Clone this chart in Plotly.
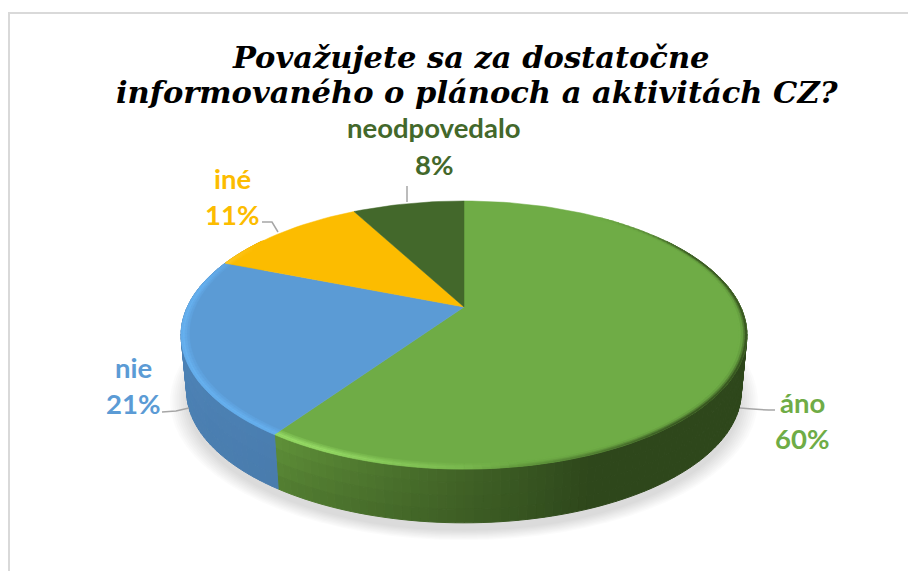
import math
import plotly.graph_objects as go

categories = ["áno", "nie", "iné", "neodpovedalo"]
values = [59.6, 21.4, 11.2, 7.8]
colors = ["#6FAC46", "#5B9BD5", "#FCBC00", "#43682B"]
side_start = {"áno": "#5E8F38", "nie": "#4F87BC", "iné": "#C99700", "neodpovedalo": "#334F20"}
side_end = {"áno": "#2E471B", "nie": "#4A7EB0", "iné": "#C99700", "neodpovedalo": "#334F20"}
rim_light = {"áno": "#9BE06A", "nie": "#68B3F2", "iné": "#FFD24D", "neodpovedalo": "#5C8A3C"}
title_lines = ["Považujete sa za dostatočne", "informovaného o plánoch a aktivitách CZ?"]

# projection of the tilted disc into the pixel-sized axes
AX, AY, K, CX, CY = 276.7, 128.2, 0.209, 464.0, 307.0
DEPTH, BOTTOM_SCALE = 57.0, 0.98


def pt(theta, r=1.0, dy=0.0, s=1.0):
    u, v = math.sin(math.radians(theta)) * r, math.cos(math.radians(theta)) * r
    w = 1 + K * v
    return CX + s * AX * u / w, CY - s * AY * v / w + dy


def rgb(h):
    return [int(h[i:i + 2], 16) for i in (1, 3, 5)]


def mix(a, b, t):
    t = max(0.0, min(1.0, t))
    ca, cb = rgb(a), rgb(b)
    return "#%02X%02X%02X" % tuple(round(x + (y - x) * t) for x, y in zip(ca, cb))


def poly(points, color, width=1.0):
    return go.Scatter(
        x=[p[0] for p in points] + [points[0][0]],
        y=[p[1] for p in points] + [points[0][1]],
        mode="lines", fill="toself", fillcolor=color,
        line=dict(color=color, width=width),
        hoverinfo="skip", showlegend=False,
    )


total = sum(values)
bounds = []
acc = 0
for v in values:
    bounds.append((acc / total * 360, (acc + v) / total * 360))
    acc += v

traces = []

# soft shadow
for i in range(9):
    grow = 1.0 + 0.0075 * i
    pts = [pt(a, 1, DEPTH + 8, BOTTOM_SCALE * grow) for a in range(0, 360, 4)]
    traces.append(poly(pts, "rgba(0,0,0,0.016)", width=0))

# side wall: painted back to front as overlapping columns
STEP = 1.5
ROWS = 4
for cat, (a0, a1) in zip(categories, bounds):
    lo, hi = max(a0, 55), min(a1, 305)
    if lo >= hi:
        continue
    n = max(1, int((hi - lo) / STEP))
    for i in range(n):
        t0 = lo + (hi - lo) * i / n
        t1 = lo + (hi - lo) * (i + 1) / n
        mid = (t0 + t1) / 2
        grad = (a1 - mid) / max(a1 - a0, 1e-6)
        if cat == "áno":
            grad = min(1, (214 - mid) / 55)
        base = mix(side_start[cat], side_end[cat], grad)
        for row in range(ROWS):
            f0, f1 = row / ROWS, (row + 1) / ROWS
            amount = (0.04 * row) * (1 - grad) if cat == "áno" else 0.006 * row
            shade = mix(base, "#000000", amount)
            p = [
                pt(t0, 1, DEPTH * f0, 1 - (1 - BOTTOM_SCALE) * f0),
                pt(t1, 1, DEPTH * f0, 1 - (1 - BOTTOM_SCALE) * f0),
                pt(t1, 1, DEPTH * f1, 1 - (1 - BOTTOM_SCALE) * f1),
                pt(t0, 1, DEPTH * f1, 1 - (1 - BOTTOM_SCALE) * f1),
            ]
            traces.append(poly(p, shade))

# top face
for cat, col, (a0, a1) in zip(categories, colors, bounds):
    n = max(4, int((a1 - a0) / 2))
    arc = [pt(a0 + (a1 - a0) * i / n) for i in range(n + 1)]
    traces.append(poly([(CX, CY)] + arc, col, width=0.5))


def highlight(theta):
    if 170 <= theta <= 305:
        rise = min(1, (theta - 170) / 35)
        fall = min(1, (305 - theta) / 25)
        return rise * fall
    return 0.0


def darken(theta):
    if 35 <= theta <= 180:
        rise = min(1, (theta - 35) / 30)
        fall = min(1, (180 - theta) / 40)
        return rise * fall
    return 0.0


# bevel on the rim
BANDS = [(0.972, 0.98, 0.3, 0.0), (0.98, 0.988, 0.6, 0.12), (0.988, 0.994, 0.9, 0.45), (0.994, 1.0, 0.8, 0.85)]
for cat, col, (a0, a1) in zip(categories, colors, bounds):
    n = max(2, int((a1 - a0) / STEP))
    for i in range(n):
        t0 = a0 + (a1 - a0) * i / n
        t1 = a0 + (a1 - a0) * (i + 1) / n
        mid = (t0 + t1) / 2
        h, d = highlight(mid), darken(mid)
        if h <= 0 and d <= 0:
            continue
        for r0, r1, s_light, s_dark in BANDS:
            c = mix(col, rim_light[cat], h * s_light)
            c = mix(c, side_end[cat], d * s_dark)
            traces.append(poly([pt(t0, r0), pt(t1, r0), pt(t1, r1), pt(t0, r1)], c, width=0.5))

fig = go.Figure(traces)


def leader(path):
    return dict(type="path", path=path, line=dict(color="#A6A6A6", width=1.5), layer="above")


shapes = [
    dict(type="path", path="M9,571 L9,13 L908,13", line=dict(color="#D9D9D9", width=2)),
    leader("M740,408 Q760,410 775,410"),
    leader("M162,412 L176,411 L189,408"),
    leader("M262,222 L272,222 L278,232"),
    leader("M407,186 L407,202"),
]

title_font = dict(family="DejaVu Serif", size=30.5, color="#000000", style="italic", weight="bold")
ann = [
    dict(x=471, y=57, text=title_lines[0], font=title_font),
    dict(x=477, y=92, text=title_lines[1], font=title_font),
]
label_pos = {
    "áno": ((802, 402), (802, 438)),
    "nie": ((133, 367), (133, 403)),
    "iné": ((232, 178), (232, 214)),
    "neodpovedalo": ((434, 127), (434, 164)),
}
for cat, col, v in zip(categories, colors, values):
    name_xy, pct_xy = label_pos[cat]
    f = dict(family="Lato", size=27.5, color=col, weight="bold")
    ann.append(dict(x=name_xy[0], y=name_xy[1], text=cat, font=f))
    ann.append(dict(x=pct_xy[0], y=pct_xy[1], text=f"{round(v)}%", font=f))
for a in ann:
    a.update(xref="x", yref="y", showarrow=False, xanchor="center", yanchor="middle")

fig.update_layout(
    width=908, height=571, margin=dict(l=0, r=0, t=0, b=0),
    paper_bgcolor="#FFFFFF", plot_bgcolor="#FFFFFF", showlegend=False,
    xaxis=dict(range=[0, 908], visible=False, fixedrange=True),
    yaxis=dict(range=[571, 0], visible=False, fixedrange=True),
    shapes=shapes, annotations=ann,
)
fig.write_html(
    "out.html",
    config=dict(displayModeBar=False),
    post_script="document.body.style.margin='0';document.body.style.overflow='hidden';",
)
